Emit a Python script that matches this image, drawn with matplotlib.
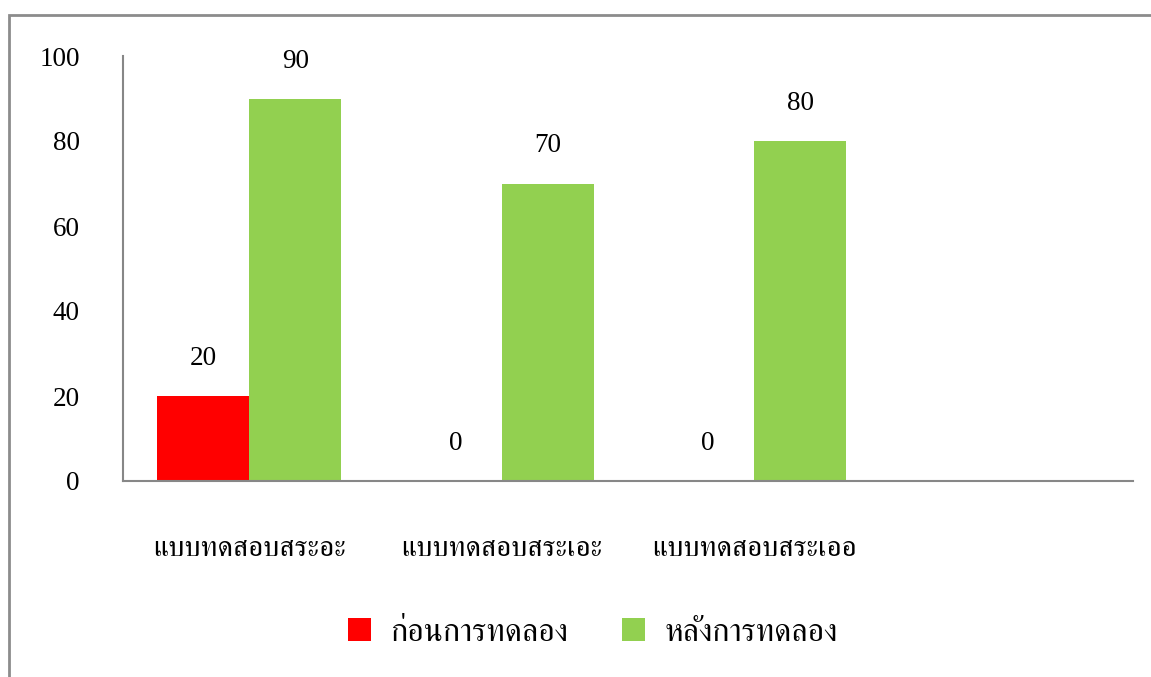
import matplotlib
matplotlib.use("Agg")
import numpy as np
import matplotlib.pyplot as plt
from matplotlib.patches import Rectangle

# data
categories = ["แบบทดสอบสระอะ", "แบบทดสอบสระเอะ", "แบบทดสอบสระเออ", ""]
before = [20, 0, 0]
after = [90, 70, 80]
series_names = ["ก่อนการทดลอง", "หลังการทดลอง"]
colors = ["#ff0000", "#92d050"]
yticks = [0, 20, 40, 60, 80, 100]

num_font = "Liberation Serif"
thai_font = "FreeSerif"
grey = "#878787"

W, H = 1151, 677
fig = plt.figure(figsize=(W / 100, H / 100), dpi=100)
ax = fig.add_axes([123 / W, 196 / H, 1010 / W, 425 / H])

# chart-area border (clipped on the right and bottom like the source)
fig.patches.append(Rectangle((9 / W, -0.1), 1.2, 1 - 15 / H + 0.1,
                             transform=fig.transFigure, fill=False,
                             edgecolor="#8c8c8c", linewidth=2))

x = np.arange(len(before))
w = 92 / 252.5
b1 = ax.bar(x - w / 2, before, w, color=colors[0], label=series_names[0])
b2 = ax.bar(x + w / 2, after, w, color=colors[1], label=series_names[1])

for bars in (b1, b2):
    for r in bars:
        ax.annotate(f"{r.get_height():g}", (r.get_x() + r.get_width() / 2, r.get_height()),
                    xytext=(0, 27), textcoords="offset points", ha="center", va="center",
                    family=num_font, fontsize=19.5)

ax.set_xlim(-0.5, len(categories) - 0.5)
ax.set_ylim(0, 100)
ax.set_yticks(yticks)
ax.set_yticklabels([str(v) for v in yticks], family=num_font, fontsize=19.5)
ax.tick_params(axis="y", length=0, pad=31)
ax.set_xticks(range(len(categories)))
ax.set_xticklabels(categories, family=thai_font, fontsize=21)
ax.tick_params(axis="x", length=0, pad=40)

for s in ("top", "right"):
    ax.spines[s].set_visible(False)
for s in ("left", "bottom"):
    ax.spines[s].set_color(grey)
    ax.spines[s].set_linewidth(1.5)

fig.legend(loc="center", bbox_to_anchor=(593 / W, 1 - 633 / H), ncol=2, frameon=False,
           prop={"family": thai_font, "size": 23}, handlelength=0.72, handleheight=0.75,
           handletextpad=0.6, columnspacing=1.7)

fig.savefig("out.png", dpi=100)
